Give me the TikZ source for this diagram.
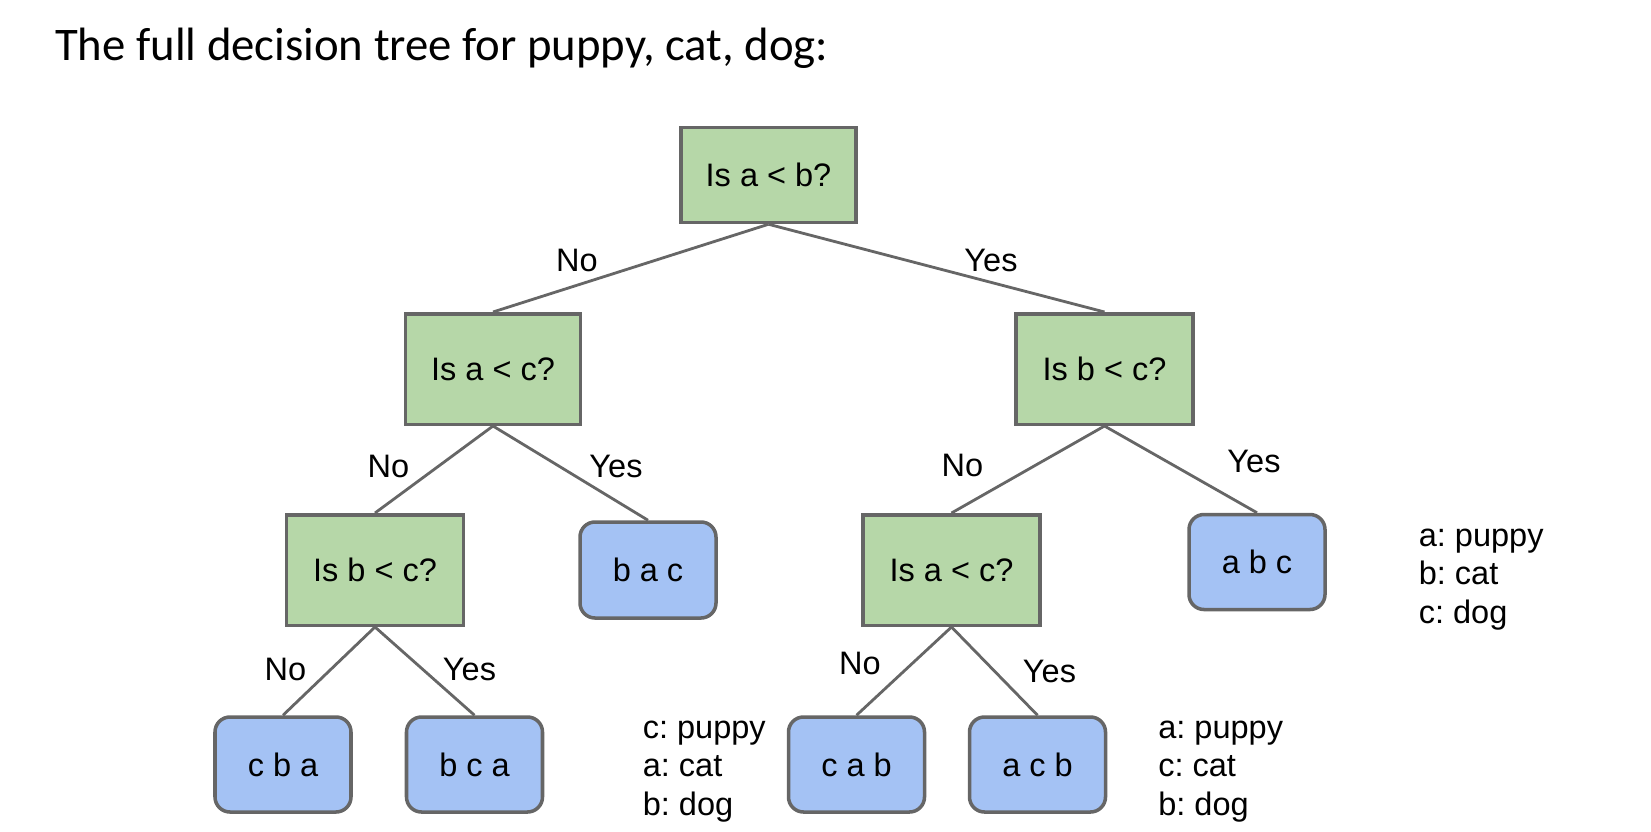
\documentclass[tikz,border=0pt]{standalone}
\usepackage{fontspec}
\setmainfont{Liberation Sans}
\newfontfamily\titlefont{Carlito}
\usepackage{tikz}
\usetikzlibrary{positioning}
\definecolor{askFill}{HTML}{B6D7A8}
\definecolor{leafFill}{HTML}{A4C2F4}
\definecolor{boxLine}{HTML}{666666}
\frenchspacing

\begin{document}
\begin{tikzpicture}[
  font=\fontsize{18.5}{21.9}\selectfont,
  ask/.style={draw=boxLine, line width=2pt, fill=askFill, minimum width=3.5cm, minimum height=2.21cm, inner sep=0pt},
  leaf/.style={draw=boxLine, line width=2pt, fill=leafFill, rounded corners=0.3cm, minimum width=2.72cm, minimum height=1.9cm, inner sep=0pt},
  branch/.style={draw=boxLine, line width=1.6pt},
  lbl/.style={anchor=base, inner sep=0pt},
  key/.style={align=left, anchor=west, inner sep=0pt}]
  \useasboundingbox (0,0) rectangle (33.02,-16.62);

  % title
  \node[anchor=base west, inner sep=0pt, font=\titlefont\fontsize{26.6}{32}\selectfont] (title) at (1.095,-1.2) {The full decision tree for puppy, cat, dog:};

  % questions
  \node[ask, minimum height=1.9cm] (qab) at (15.37,-3.50) {Is a < b?};
  \node[ask] (qac) at (9.86,-7.38) {Is a < c?};
  \node[ask, minimum width=3.54cm] (qbc) at (22.09,-7.38) {Is b < c?};
  \node[ask, minimum width=3.54cm] (qbcL) at (7.50,-11.40) {Is b < c?};
  \node[ask, minimum width=3.54cm] (qacR) at (19.03,-11.40) {Is a < c?};

  % orderings
  \node[leaf, minimum height=1.92cm] (bac) at (12.96,-11.40) {b a c};
  \node[leaf] (abc) at (25.14,-11.24) {a b c};
  \node[leaf] (cba) at (5.66,-15.29) {c b a};
  \node[leaf] (bca) at (9.49,-15.29) {b c a};
  \node[leaf] (cab) at (17.13,-15.29) {c a b};
  \node[leaf] (acb) at (20.75,-15.29) {a c b};

  % branches
  \draw[branch] (qab.south) -- (qac.north);
  \draw[branch] (qab.south) -- (qbc.north);
  \draw[branch] (qac.south) -- (qbcL.north);
  \draw[branch] (qac.south) -- (bac.north);
  \draw[branch] (qbc.south) -- (qacR.north);
  \draw[branch] (qbc.south) -- (abc.north);
  \draw[branch] (qbcL.south) -- (cba.north);
  \draw[branch] (qbcL.south) -- (bca.north);
  \draw[branch] (qacR.south) -- (cab.north);
  \draw[branch] (qacR.south) -- (acb.north);

  \node[lbl] (no1) at (11.54,-5.42) {No};
  \node[lbl] (yes1) at (19.82,-5.42) {Yes};
  \node[lbl] (no2) at (7.77,-9.55) {No};
  \node[lbl] (yes2) at (12.32,-9.55) {Yes};
  \node[lbl] (no3) at (19.25,-9.53) {No};
  \node[lbl] (yes3) at (25.08,-9.44) {Yes};
  \node[lbl] (no4) at (5.71,-13.61) {No};
  \node[lbl] (yes4) at (9.39,-13.61) {Yes};
  \node[lbl] (no5) at (17.20,-13.49) {No};
  \node[lbl] (yes5) at (20.99,-13.65) {Yes};

  % keys
  \node[key] (keyA) at (28.37,-11.59) {a: puppy\\b: cat\\c: dog};
  \node[key] (keyB) at (12.85,-15.43) {c: puppy\\a: cat\\b: dog};
  \node[key] (keyC) at (23.16,-15.43) {a: puppy\\c: cat\\b: dog};
\end{tikzpicture}
\end{document}
